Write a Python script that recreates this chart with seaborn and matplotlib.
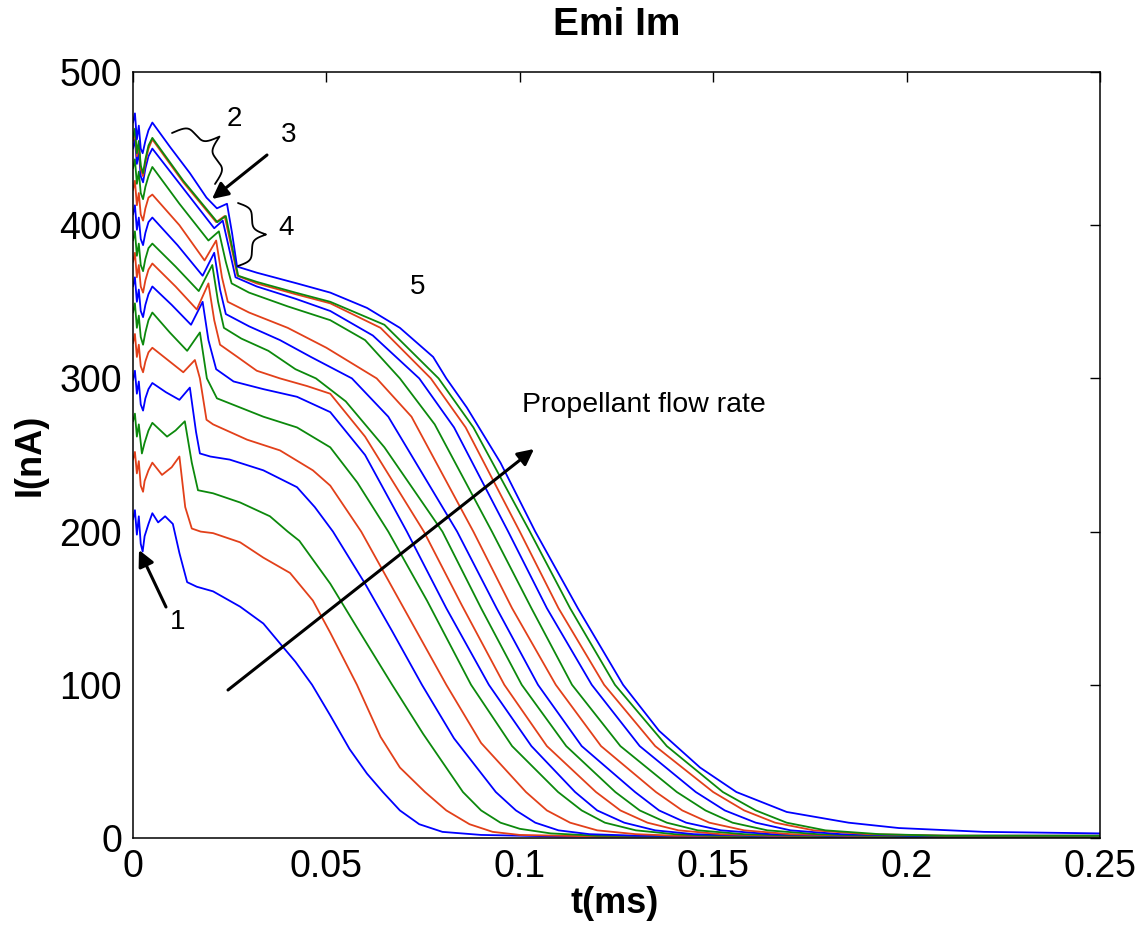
import numpy as np
import pandas as pd
import matplotlib
matplotlib.use("Agg")
import matplotlib.pyplot as plt
from matplotlib.lines import Line2D
import seaborn as sns

# ---------------- data ----------------
t01 = [0, .0005, .001, .0015, .002, .0025, .003, .004, .005, .0065, .0083, .0103, .012, .014, .0165, .0207, .0277, .0337, .038, .042, .0463, .051, .056, .0605, .0646, .069, .074, .08, .09, .11, .15, .2, .25]
i01 = [208, 214, 198, 210, 192, 187, 197, 205, 212, 206, 210, 205, 186, 167, 164, 161, 151, 140, 127, 115, 100, 80, 58, 42, 30, 18, 9, 4, 2, 1, 1, 1, 1]

t02 = [0, .0005, .001, .0015, .002, .0026, .003, .004, .005, .0075, .01, .012, .0135, .0152, .0175, .0207, .0277, .0337, .0406, .0465, .051, .0579, .064, .069, .0755, .081, .087, .093, .1, .12, .16, .2, .25]
i02 = [247, 252, 238, 246, 230, 226, 233, 240, 245, 237, 242, 249, 216, 202, 200, 199, 193, 183, 173, 155, 134, 100, 66, 46, 30, 18, 9, 4, 2, 1, 1, 1, 1]

t03 = [0, .0005, .001, .0015, .0023, .003, .004, .005, .0088, .011, .0134, .0152, .0168, .0207, .0277, .0354, .040, .043, .051, .058, .067, .075, .0853, .09, .095, .1, .108, .12, .16, .2, .25]
i03 = [272, 277, 262, 270, 251, 258, 266, 271, 262, 266, 272, 245, 227, 225, 219, 210, 200, 194, 166, 137, 100, 68, 30, 18, 10, 6, 3, 1.5, 1, 1, 1]

t04 = [0, .0005, .001, .0015, .002, .0026, .0032, .004, .005, .0085, .012, .0147, .0163, .0173, .02, .025, .0337, .0424, .047, .0517, .06, .067, .0747, .083, .0938, .099, .104, .11, .118, .13, .17, .21, .25]
i04 = [299, 305, 290, 298, 283, 279, 287, 293, 297, 291, 286, 294, 265, 251, 249, 247, 240, 229, 216, 200, 166, 135, 100, 65, 30, 18, 10, 5, 2.5, 1.5, 1, 1, 1]

t05 = [0, .0005, .001, .0015, .002, .0026, .0032, .004, .005, .009, .013, .016, .0173, .019, .0207, .0295, .038, .0465, .051, .059, .07, .081, .09, .1016, .107, .113, .12, .13, .14, .18, .22, .25]
i05 = [323, 329, 314, 322, 308, 304, 311, 317, 320, 312, 304, 312, 300, 273, 270, 260, 253, 240, 230, 200, 150, 100, 62, 30, 18, 10, 5, 2.5, 1.5, 1, 1, 1]

t06 = [0, .0005, .001, .0015, .002, .0026, .0032, .004, .005, .0095, .014, .0173, .0191, .0217, .0337, .0424, .051, .058, .066, .076, .0874, .098, .1099, .116, .122, .13, .14, .15, .19, .25]
i06 = [343, 349, 333, 341, 327, 322, 330, 338, 343, 330, 318, 330, 300, 287, 275, 268, 255, 232, 200, 155, 100, 60, 30, 18, 10, 5, 2.5, 1.5, 1, 1]

t07 = [0, .0005, .001, .0015, .002, .0026, .0032, .004, .005, .01, .015, .018, .0195, .0215, .026, .0337, .0424, .051, .06, .0708, .081, .092, .103, .1143, .12, .127, .135, .145, .16, .2, .25]
i07 = [360, 366, 350, 358, 344, 340, 348, 355, 360, 348, 335, 350, 325, 306, 298, 293, 288, 278, 250, 200, 150, 100, 60, 30, 18, 10, 5, 2.5, 1.5, 1, 1]

t08 = [0, .0005, .001, .0015, .002, .0026, .0032, .004, .005, .011, .0165, .0195, .021, .0225, .027, .032, .038, .045, .051, .06, .0752, .085, .096, .107, .1197, .126, .133, .141, .152, .165, .2, .25]
i08 = [376, 382, 366, 374, 360, 356, 364, 371, 375, 360, 345, 362, 338, 322, 314, 305, 300, 295, 290, 262, 200, 152, 100, 60, 30, 18, 10, 5, 2.5, 1.5, 1, 1]

t09 = [0, .0005, .001, .0015, .002, .0026, .0032, .004, .005, .011, .017, .0205, .022, .0235, .028, .035, .042, .0473, .055, .065, .080, .09, .1005, .112, .1247, .131, .138, .146, .158, .172, .21, .25]
i09 = [390, 396, 380, 388, 374, 370, 378, 385, 388, 373, 357, 374, 350, 333, 326, 318, 306, 300, 285, 255, 200, 150, 100, 60, 30, 18, 10, 5, 2.5, 1.5, 1, 1]

t10 = [0, .0005, .001, .0015, .002, .0026, .0032, .004, .005, .0115, .018, .021, .0225, .024, .03, .038, .046, .0566, .066, .0838, .094, .1047, .116, .1298, .136, .143, .152, .165, .18, .22, .25]
i10 = [407, 413, 397, 405, 391, 387, 395, 402, 405, 387, 367, 382, 358, 342, 334, 325, 314, 300, 275, 200, 150, 100, 60, 30, 18, 10, 5, 2.5, 1.5, 1, 1]

t11 = [0, .0005, .001, .0015, .002, .0026, .0032, .004, .005, .012, .0185, .0215, .023, .0245, .03, .04, .05, .063, .072, .088, .098, .1093, .121, .1352, .142, .149, .158, .17, .185, .22, .25]
i11 = [423, 429, 413, 421, 407, 403, 411, 418, 420, 400, 377, 390, 366, 350, 343, 333, 320, 300, 275, 200, 150, 100, 60, 30, 18, 10, 5, 2.5, 1.5, 1, 1]

t12 = [0, .0005, .001, .0015, .002, .0026, .0032, .004, .005, .012, .0195, .0222, .024, .0255, .03, .04, .051, .06, .069, .078, .0928, .103, .1135, .126, .1406, .148, .155, .164, .177, .19, .22, .25]
i12 = [437, 443, 427, 435, 421, 417, 425, 432, 438, 414, 390, 396, 376, 362, 356, 347, 338, 325, 300, 270, 200, 150, 100, 60, 30, 18, 10, 5, 2.5, 1.5, 1, 1]

t13 = [0, .0005, .001, .0015, .002, .0026, .0032, .004, .005, .013, .021, .0232, .025, .0265, .032, .042, .051, .062, .074, .083, .097, .107, .1186, .131, .1455, .153, .161, .17, .183, .2, .23, .25]
i13 = [450, 456, 440, 448, 432, 428, 437, 445, 450, 424, 398, 403, 383, 366, 360, 352, 344, 328, 300, 268, 200, 150, 100, 60, 30, 18, 10, 5, 2.5, 1.5, 1.5, 1.5]

t14 = [0, .0005, .001, .0015, .002, .0026, .0032, .004, .005, .013, .0215, .0237, .0255, .027, .032, .042, .051, .064, .077, .086, .100, .11, .1218, .135, .150, .158, .166, .176, .19, .21, .23, .25]
i14 = [455, 461, 445, 453, 437, 432, 441, 450, 456, 428, 402, 406, 385, 367, 362, 355, 349, 333, 300, 268, 200, 150, 100, 60, 30, 18, 10, 5, 2.5, 1.5, 1.5, 1.5]

t15 = [0, .0005, .001, .0015, .002, .0026, .0032, .004, .005, .013, .0218, .024, .0257, .0272, .032, .042, .051, .065, .079, .088, .1026, .113, .1246, .138, .1525, .161, .169, .179, .193, .21, .23, .25]
i15 = [457, 463, 447, 455, 439, 434, 443, 452, 457, 429, 402, 406, 385, 367, 363, 356, 350, 335, 300, 268, 200, 150, 100, 60, 30, 18, 10, 5, 2.5, 1.5, 1.5, 1.5]

t16 = [0, .0005, .001, .0015, .002, .0025, .0032, .004, .005, .0096, .0147, .019, .0217, .0243, .0256, .0269, .032, .0424, .051, .0605, .069, .0776, .081, .0863, .095, .104, .115, .1267, .136, .1466, .156, .169, .185, .198, .22, .25]
i16 = [467, 473, 456, 465, 450, 447, 455, 462, 467, 451, 434, 418, 411, 414, 395, 373, 369, 362, 356, 346, 333, 314, 300, 281, 245, 200, 150, 100, 70, 46, 30, 17, 10, 6.5, 4, 3]

curve_t = [t01, t02, t03, t04, t05, t06, t07, t08, t09, t10, t11, t12, t13, t14, t15, t16]
curve_i = [i01, i02, i03, i04, i05, i06, i07, i08, i09, i10, i11, i12, i13, i14, i15, i16]

x_ticks = [0, 0.05, 0.1, 0.15, 0.2, 0.25]
x_tick_labels = ["0", "0.05", "0.1", "0.15", "0.2", "0.25"]
y_ticks = [0, 100, 200, 300, 400, 500]

# ---------------- styling ----------------
BLUE, RED, GREEN = "#0000ff", "#e2401a", "#0c890c"
cycle = [BLUE, RED, GREEN]

sns.set_style("white")
plt.rcParams["font.family"] = ["Liberation Sans", "DejaVu Sans"]
plt.rcParams["text.color"] = "black"
plt.rcParams["axes.labelcolor"] = "black"

W, H = 1144, 930
fig = plt.figure(figsize=(W / 100, H / 100), dpi=100)
L, R, T, B = 133, 1100, 72, 838
ax = fig.add_axes([L / W, 1 - B / H, (R - L) / W, (B - T) / H])

frames = []
for k, (tt, ii) in enumerate(zip(curve_t, curve_i)):
    frames.append(pd.DataFrame({"t": tt, "I": ii, "curve": f"c{k + 1:02d}"}))
df = pd.concat(frames, ignore_index=True)
palette = {f"c{k + 1:02d}": cycle[k % 3] for k in range(len(curve_t))}

sns.lineplot(data=df, x="t", y="I", hue="curve", palette=palette,
             estimator=None, sort=False, legend=False, linewidth=1.3, ax=ax)

ax.set_xlim(0, 0.25)
ax.set_ylim(0, 500)
ax.set_xticks(x_ticks)
ax.set_xticklabels(x_tick_labels)
ax.set_yticks(y_ticks)
ax.tick_params(direction="in", top=True, right=True, length=7, width=1,
               labelsize=27, pad=8, colors="black")
for s in ax.spines.values():
    s.set_linewidth(1.1)
    s.set_color("black")
    s.set_visible(True)

ax.set_title("Emi Im", fontsize=28, fontweight="bold", y=(B - 25) / (B - T),
             pad=0, va="center", color="black")
ax.set_xlabel("t(ms)", fontsize=26, fontweight="bold", color="black")
ax.xaxis.set_label_coords((615 - L) / (R - L), (B - 903) / (B - T))
ax.xaxis.label.set_va("center")
ax.set_ylabel("I(nA)", fontsize=26, fontweight="bold", color="black")
ax.yaxis.set_label_coords((30 - L) / (R - L), (B - 455) / (B - T))
ax.yaxis.label.set_va("center")


# ---------------- annotations ----------------
def d(xp, yp):
    """reference pixel -> data coords"""
    return ((xp - L) / (R - L) * 0.25, (B - yp) / (B - T) * 500)


arrow_kw = dict(arrowstyle="-|>", color="black", lw=2.2, mutation_scale=24,
                shrinkA=0, shrinkB=0)
ax.annotate("", xy=d(139, 550), xytext=d(166, 607), arrowprops=arrow_kw)
ax.annotate("", xy=d(212, 199), xytext=d(267, 155), arrowprops=arrow_kw)
ax.annotate("", xy=d(534, 449), xytext=d(228, 690), arrowprops=arrow_kw)

lab_kw = dict(fontsize=20, ha="center", va="center", color="black")
ax.text(*d(178, 622), "1", **lab_kw)
ax.text(*d(234, 119), "2", **lab_kw)
ax.text(*d(289, 135), "3", **lab_kw)
ax.text(*d(286, 228), "4", **lab_kw)
ax.text(*d(418, 287), "5", **lab_kw)
ax.text(*d(522, 405), "Propellant flow rate", fontsize=20.5, ha="left",
        va="center", color="black")


def brace(p0, p1, width, side):
    p0 = np.array(p0, float)
    p1 = np.array(p1, float)
    length = np.hypot(*(p1 - p0))
    dvec = (p1 - p0) / length
    n = np.array([dvec[1], -dvec[0]]) * side
    u = np.linspace(0, length / 2, 200)
    beta = 0.4
    h = 1 / (1 + np.exp(-beta * (u - u[0]))) + 1 / (1 + np.exp(-beta * (u - u[-1]))) - 0.5
    uf = np.concatenate([u, length - u[::-1]])
    hf = np.concatenate([h, h[::-1]])
    pts = p0 + np.outer(uf, dvec) + np.outer(hf * width, n)
    fig.add_artist(Line2D(pts[:, 0] / W, 1 - pts[:, 1] / H, color="black",
                          lw=1.3, transform=fig.transFigure))


brace((172, 133), (215, 184), 34, 1)
brace((238, 203), (238, 266), 28, 1)

fig.savefig("out.png", dpi=100, facecolor="white")
